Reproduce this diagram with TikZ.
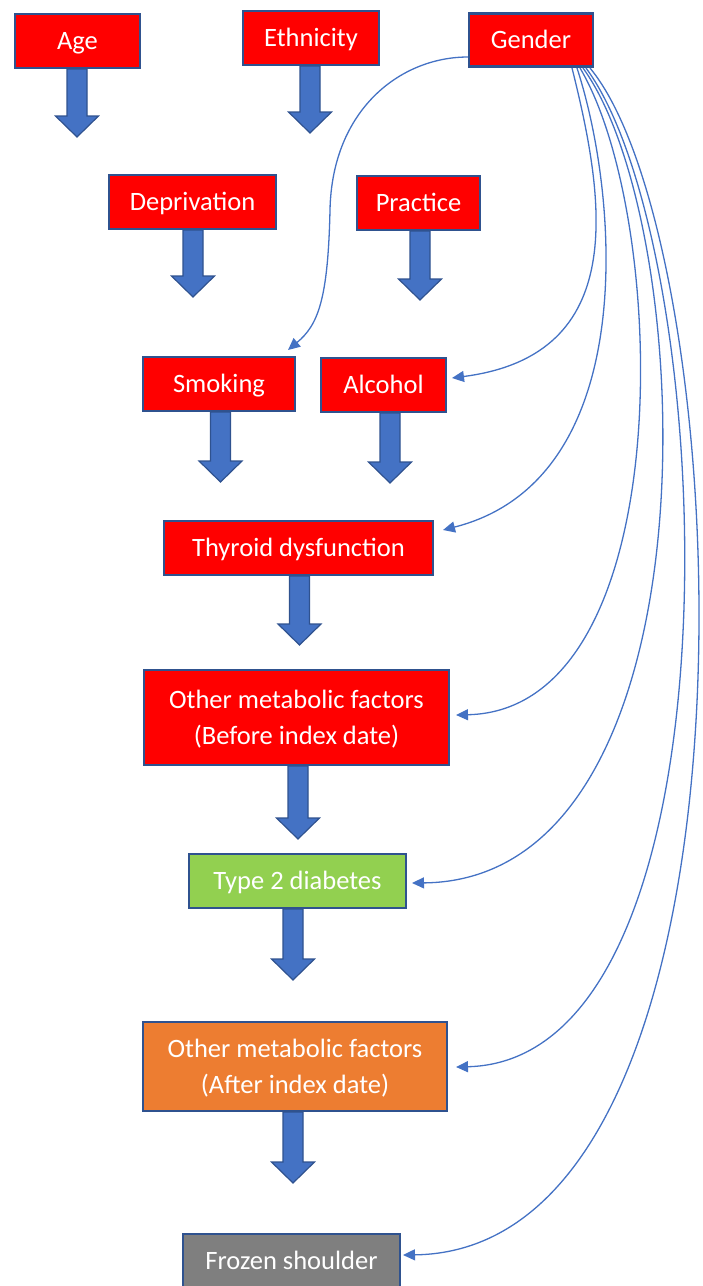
\documentclass[tikz,border=0pt]{standalone}
\usepackage{fontspec}
\setmainfont{Carlito}
\usetikzlibrary{arrows.meta}
\definecolor{boxred}{HTML}{FF0000}
\definecolor{edgeblue}{HTML}{2F528F}
\definecolor{arrblue}{HTML}{4472C4}
\definecolor{tgreen}{HTML}{92D050}
\definecolor{torange}{HTML}{ED7D31}
\definecolor{tgrey}{HTML}{7F7F7F}
\newcommand\blockarr[3]{%
  \draw[blockarrow] ({#1-10},#2) -- ({#1-10},{#3-21}) -- ({#1-21.5},{#3-21}) -- (#1,#3)
    -- ({#1+21.5},{#3-21}) -- ({#1+10},{#3-21}) -- ({#1+10},#2) -- cycle;}
\begin{document}
\begin{tikzpicture}[x=1pt,y=-1pt,
  box/.style={draw=edgeblue, line width=2.5pt, fill=boxred, text=white,
    font=\fontsize{26.5}{36}\selectfont, inner sep=0pt, align=center,
    text height=20pt, text depth=3pt},
  twoline/.style={text height=56pt},
  blockarrow/.style={fill=arrblue, draw=edgeblue, line width=1.2pt, line join=miter},
  link/.style={draw=arrblue, line width=1.3pt, -{Triangle[length=12pt,width=11pt]}}]
\useasboundingbox (0,0) rectangle (702,1286);
\clip (0,0) rectangle (702,1286);

% nodes
\node[box, minimum width=125pt, minimum height=54pt] (age) at (77.5,41) {Age};
\node[box, minimum width=136pt, minimum height=54pt] (eth) at (311,38) {Ethnicity};
\node[box, minimum width=124pt, minimum height=53pt] (gender) at (531,40) {Gender};
\node[box, minimum width=167pt, minimum height=54pt] (dep) at (192.5,202) {Deprivation};
\node[box, minimum width=123pt, minimum height=54pt] (prac) at (418.5,203) {Practice};
\node[box, minimum width=152pt, minimum height=54pt] (smok) at (219,384) {Smoking};
\node[box, minimum width=125pt, minimum height=54pt] (alc) at (383.5,385) {Alcohol};
\node[box, minimum width=269pt, minimum height=54pt] (thy) at (298.5,548) {Thyroid dysfunction};
\node[box, twoline, minimum width=305pt, minimum height=95pt] (before) at (296.5,717.5) {Other metabolic factors\\(Before index date)};
\node[box, fill=tgreen, minimum width=217pt, minimum height=54pt] (t2d) at (297.5,881) {Type 2 diabetes};
\node[box, twoline, fill=torange, minimum width=304pt, minimum height=89pt] (after) at (295,1066.5) {Other metabolic factors\\(After index date)};
\node[box, fill=tgrey, minimum width=217pt, minimum height=54pt] (frozen) at (291.5,1261) {Frozen shoulder};

% block arrows
\blockarr{77}{69}{137}
\blockarr{310}{66}{133}
\blockarr{193}{230}{297}
\blockarr{420}{231}{300}
\blockarr{220.5}{412}{482}
\blockarr{390}{413}{483}
\blockarr{299.5}{576}{645}
\blockarr{298}{766}{839}
\blockarr{293}{909}{980}
\blockarr{293}{1112}{1183}

% gender connectors
\coordinate (gw) at (468,57);
\coordinate (s1) at (572,68);
\coordinate (s2) at (577,68);
\coordinate (s3) at (580,68);
\coordinate (s4) at (583,68);
\coordinate (s5) at (586,68);
\coordinate (s6) at (590,68);
\coordinate (tsmok) at (288,350);
\coordinate (talc) at (452,378);
\coordinate (tthy) at (443,530);
\coordinate (tbef) at (456,715);
\coordinate (tt2d) at (412,883);
\coordinate (taft) at (456,1067);
\coordinate (tfro) at (403,1255);

\draw[link] (gw) .. controls (400,57) and (332,110) .. (330,210) .. controls (328,300) and (318,325) .. (tsmok);
\draw[link] (s1) .. controls (605,200) and (630,355) .. (talc);
\draw[link] (s2) .. controls (620,200) and (640,480) .. (tthy);
\draw[link] (s3) .. controls (670,220) and (680,710) .. (tbef);
\draw[link] (s4) .. controls (700,230) and (720,880) .. (tt2d);
\draw[link] (s5) .. controls (720,250) and (750,1060) .. (taft);
\draw[link] (s6) .. controls (740,250) and (780,1250) .. (tfro);
\end{tikzpicture}
\end{document}
